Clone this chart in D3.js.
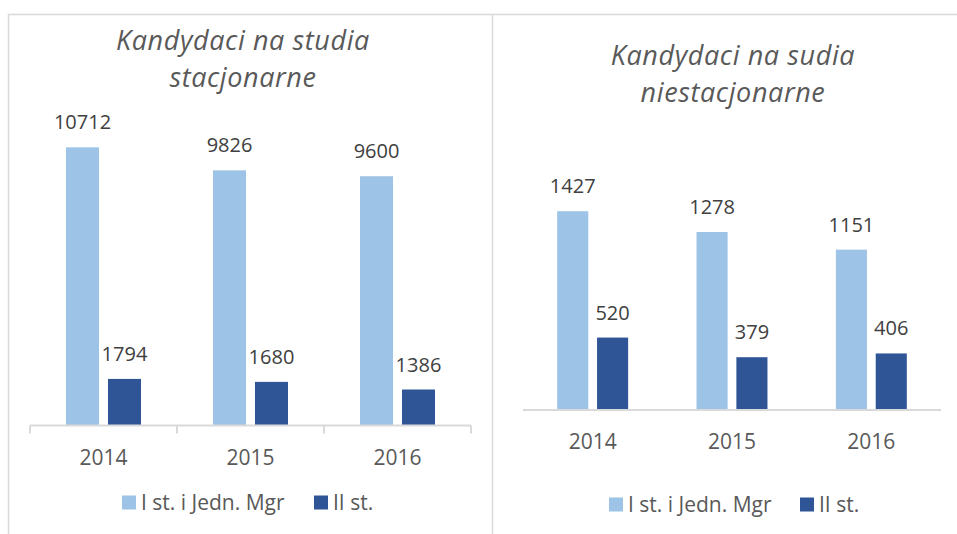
<!DOCTYPE html>
<html>
<head>
<meta charset="utf-8">
<script src="https://cdn.jsdelivr.net/npm/d3@7"></script>
<style>
  body { margin: 0; background: #fff; }
  svg { display: block; font-family: "Open Sans", "Noto Sans", sans-serif; }
</style>
</head>
<body>
<svg></svg>
<script>
// data
let years = ['2014', '2015', '2016']
let seriesNames = ['I st. i Jedn. Mgr', 'II st.']
let colors = ['#9dc3e6', '#2f5597']

let stacjonarne1 = [10712, 9826, 9600]
let stacjonarne2 = [1794, 1680, 1386]
let niestacjonarne1 = [1427, 1278, 1151]
let niestacjonarne2 = [520, 379, 406]

let svg = d3.select('svg').attr('width', 957).attr('height', 534)

// frames
svg.append('path')
  .attr('d', 'M8.5,540 V14.5 H960 M492.5,14.5 V540')
  .attr('fill', 'none')
  .attr('stroke', '#d9d9d9')
  .attr('stroke-width', 1.5)

function drawChart(opt) {
  let g = svg.append('g')

  let x = d3.scaleBand().domain(years).range([opt.x0, opt.x1])
  let inner = d3.scaleBand().domain([0, 1])
    .range([opt.groupPad, x.bandwidth() - opt.groupPad]).paddingInner(opt.gap)
  let y = d3.scaleLinear().domain([0, opt.max]).range([opt.base, opt.top])

  // title
  g.append('text')
    .attr('x', opt.titleX).attr('y', opt.titleY)
    .attr('text-anchor', 'middle')
    .attr('font-size', 27).attr('font-style', 'italic')
    .attr('letter-spacing', 0.6)
    .attr('fill', '#595959')
    .selectAll('tspan').data(opt.title)
    .enter().append('tspan')
      .attr('x', opt.titleX)
      .attr('dy', (d, i) => i ? 37.5 : 0)
      .text(d => d)

  let rows = years.map((yr, i) => ({ yr: yr, vals: [opt.s1[i], opt.s2[i]] }))

  let grp = g.selectAll('.grp').data(rows).enter().append('g')
    .attr('transform', d => 'translate(' + x(d.yr) + ',0)')

  grp.selectAll('rect')
    .data(d => d.vals)
    .enter().append('rect')
      .attr('x', (d, i) => inner(i))
      .attr('width', inner.bandwidth())
      .attr('y', d => y(d))
      .attr('height', d => opt.base - y(d))
      .attr('fill', (d, i) => colors[i])

  grp.selectAll('text')
    .data(d => d.vals)
    .enter().append('text')
      .attr('x', (d, i) => inner(i) + inner.bandwidth() / 2)
      .attr('y', d => y(d) - 18)
      .attr('text-anchor', 'middle')
      .attr('font-size', 20)
      .attr('fill', '#404040')
      .text(d => d)

  // axis
  let axis = d3.axisBottom(x).tickSize(0).tickPadding(0)
  let ax = g.append('g').attr('transform', 'translate(0,' + opt.base + ')').call(axis)
  ax.select('.domain').attr('stroke', '#d9d9d9').attr('stroke-width', 2)
    .attr('d', 'M' + opt.x0 + ',0H' + opt.x1)
  ax.selectAll('text').attr('font-size', 21).attr('fill', '#595959')
    .attr('y', 39).attr('dy', 0)
    .attr('font-family', '"Open Sans", "Noto Sans", sans-serif')

  if (opt.ticks) {
    let edges = years.map(d => x(d)).concat([opt.x1])
    ax.selectAll('.edge').data(edges).enter().append('line')
      .attr('x1', d => d).attr('x2', d => d)
      .attr('y1', 0).attr('y2', 8)
      .attr('stroke', '#d9d9d9').attr('stroke-width', 2)
  }

  // legend
  let lg = g.append('g').attr('transform', 'translate(0,' + opt.legendY + ')')
  seriesNames.forEach((name, i) => {
    lg.append('rect')
      .attr('x', opt.legendX[i]).attr('y', -6.5)
      .attr('width', 14).attr('height', 14)
      .attr('fill', colors[i])
    lg.append('text')
      .attr('x', opt.legendX[i] + 19).attr('y', 7.5)
      .attr('font-size', 21).attr('fill', '#595959')
      .text(name)
  })
}

drawChart({
  x0: 30, x1: 471, base: 425.5, top: 113.9, max: 12000,
  groupPad: 36, gap: 0.214,
  s1: stacjonarne1, s2: stacjonarne2,
  title: ['Kandydaci na studia', 'stacjonarne'], titleX: 243, titleY: 49.5,
  ticks: true, legendY: 502, legendX: [122, 314]
})

drawChart({
  x0: 523, x1: 941, base: 410, top: 131.4, max: 2000,
  groupPad: 34.2, gap: 0.22,
  s1: niestacjonarne1, s2: niestacjonarne2,
  title: ['Kandydaci na sudia', 'niestacjonarne'], titleX: 733, titleY: 64.5,
  ticks: false, legendY: 504, legendX: [609, 800]
})
</script>
</body>
</html>
